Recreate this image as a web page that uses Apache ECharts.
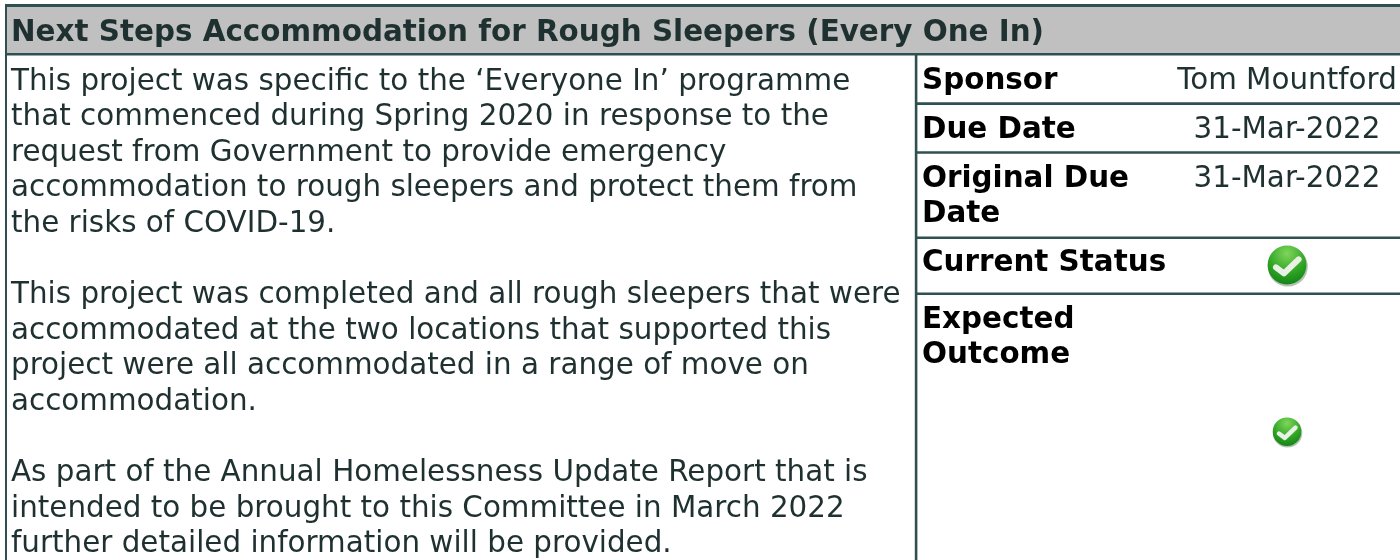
<!DOCTYPE html>
<html>
<head>
<meta charset="utf-8">
<style>
  html, body { margin: 0; padding: 0; background: #fff; }
  #main { width: 1400px; height: 560px; }
</style>
<script src="https://cdn.jsdelivr.net/npm/echarts@6/dist/echarts.min.js"></script>
</head>
<body>
<div id="main"></div>
<script>
const titleText = 'Next Steps Accommodation for Rough Sleepers (Every One In)'
const bodyLines = [
  'This project was specific to the ‘Everyone In’ programme',
  'that commenced during Spring 2020 in response to the',
  'request from Government to provide emergency',
  'accommodation to rough sleepers and protect them from',
  'the risks of COVID-19.',
  '',
  'This project was completed and all rough sleepers that were',
  'accommodated at the two locations that supported this',
  'project were all accommodated in a range of move on',
  'accommodation.',
  '',
  'As part of the Annual Homelessness Update Report that is',
  'intended to be brought to this Committee in March 2022',
  'further detailed information will be provided.',
]
const labelLines = [
  ['Sponsor'],
  ['Due Date'],
  ['Original Due', 'Date'],
  ['Current Status'],
  ['Expected', 'Outcome'],
]
const valueTexts = ['Tom Mountford', '31-Mar-2022', '31-Mar-2022']

const FONT = '"DejaVu Sans", Verdana, sans-serif'
const LINE = '#2f5050'
const TEXT = '#1f3030'
const FONT_SIZE = 29.4
const LINE_H = 35.6

const rowSeps = [102.3, 151.2, 236.4, 292.4]
const labelY = [81, 130.5, 179.5, 263, 320.5]
const valueY = [81, 130.5, 179.5]

function rect(x, y, width, height, fill) {
  return { type: 'rect', silent: true, shape: { x, y, width, height }, style: { fill } }
}
function label(x, y, text, color, bold, align) {
  return {
    type: 'text', x, y, silent: true,
    style: {
      text, fill: color, font: (bold ? 'bold ' : '') + FONT_SIZE + 'px ' + FONT,
      textAlign: align || 'left', textVerticalAlign: 'middle',
    },
  }
}
function tick(cx, cy, r) {
  return [
    { type: 'circle', silent: true, shape: { cx: cx + r * 0.04, cy: cy + r * 0.08, r }, style: { fill: '#b4c0b4' } },
    {
      type: 'circle', silent: true, shape: { cx, cy, r: r * 0.97 },
      style: {
        fill: {
          type: 'radial', x: 0.5, y: 0.2, r: 0.9,
          colorStops: [{ offset: 0, color: '#7fd65c' }, { offset: 0.55, color: '#2fa524' }, { offset: 1, color: '#0c7a14' }],
        },
      },
    },
    {
      type: 'polyline', silent: true,
      shape: { points: [[cx - r * 0.55, cy + r * 0.12], [cx - r * 0.15, cy + r * 0.42], [cx + r * 0.58, cy - r * 0.28]] },
      style: { stroke: '#e9f1e4', fill: null, lineWidth: r * 0.3, lineCap: 'round', lineJoin: 'round' },
    },
  ]
}

const elements = [
  rect(5, 7, 1395, 46, '#c0c0c0'),
  rect(5, 4, 1395, 3, LINE),
  rect(5, 53, 1395, 2.6, LINE),
  rect(5, 4, 2, 556, LINE),
  rect(914.8, 55, 2.6, 505, LINE),
]
rowSeps.forEach(y => elements.push(rect(917, y, 483, 2.6, LINE)))
elements.push(label(11, 33.5, titleText, TEXT, true))
bodyLines.forEach((t, i) => {
  if (t) elements.push(label(11, 82 + i * LINE_H, t, TEXT, false))
})
labelLines.forEach((lines, i) => {
  lines.forEach((t, j) => elements.push(label(922, labelY[i] + j * 35, t, '#000', true)))
})
valueTexts.forEach((t, i) => elements.push(label(1287, valueY[i], t, TEXT, false, 'center')))
elements.push(...tick(1287, 265, 20))
elements.push(...tick(1287, 431.7, 14.7))

const myChart = echarts.init(document.getElementById('main'))
myChart.setOption({
  animation: false,
  backgroundColor: '#ffffff',
  graphic: { elements },
})
</script>
</body>
</html>
